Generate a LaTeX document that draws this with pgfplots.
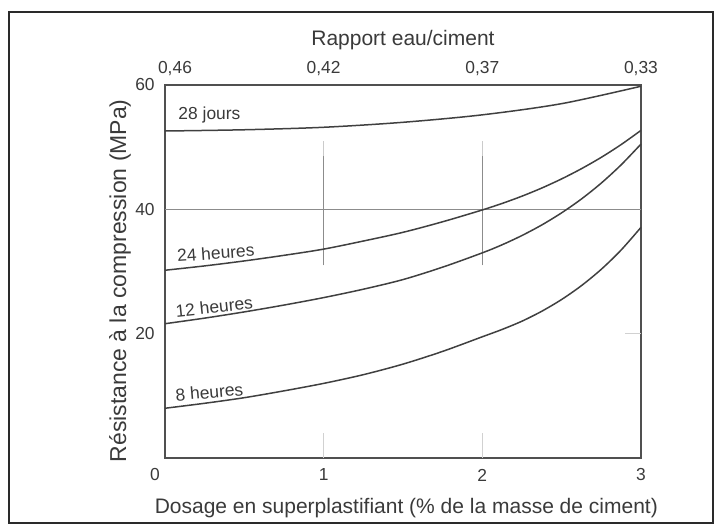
\documentclass[border=0pt]{standalone}
\usepackage{fontspec}
\setmainfont{Liberation Sans}
\usepackage{pgfplots}
\pgfplotsset{compat=1.18}
\definecolor{txt}{HTML}{3A3A3A}
\definecolor{curvec}{HTML}{404040}
\definecolor{axc}{HTML}{505050}
\definecolor{gridc}{HTML}{8C8C8C}
\definecolor{framec}{HTML}{2A2A2A}
\begin{document}
\begin{tikzpicture}[x=1pt,y=1pt]
\path[use as bounding box] (0,0) rectangle (359.5,264);
\draw[line width=1pt, framec] (4.5,2.5) rectangle (356.5,258);
\begin{axis}[
  at={(82.5pt,35pt)}, anchor=south west,
  scale only axis, width=238pt, height=186.5pt,
  xmin=0, xmax=3, ymin=0, ymax=60,
  xtick={0,1,2,3}, xticklabels={{\llap{0\kern2.6pt}},1,2,3},
  ytick={20,40,60},
  major tick length=0pt,
  axis line style={draw=axc, line width=0.7pt},
  tick label style={font=\fontsize{8.7}{10}\selectfont, text=txt},
  xticklabel style={anchor=center, yshift=-8.5pt},
  yticklabel style={anchor=center, xshift=-10pt},
  /pgf/number format/assume math mode=true,
  label style={font=\fontsize{10.5}{12}\selectfont, text=txt},
  xlabel={Dosage en superplastifiant (\% de la masse de ciment)},
  xlabel style={at={(axis description cs:0.507,-0.134)}, anchor=center},
  ylabel={Résistance à la compression (MPa)},
  ylabel style={at={(axis description cs:-0.0945,0.475)}, anchor=center, font=\fontsize{11.5}{13}\selectfont},
  clip=false,
]
% guide lines
\addplot[gridc, line width=0.6pt] coordinates {(0,40) (3,40)};
\addplot[gridc, line width=0.6pt] coordinates {(1,31) (1,48.5)};
\addplot[gridc!45, line width=0.6pt] coordinates {(1,48.5) (1,51)};
\addplot[gridc, line width=0.6pt] coordinates {(2,31) (2,48.5)};
\addplot[gridc!45, line width=0.6pt] coordinates {(2,48.5) (2,51)};
\addplot[gridc!40, line width=0.5pt] coordinates {(1,0) (1,4)};
\addplot[gridc!40, line width=0.5pt] coordinates {(2,0) (2,4)};
\addplot[gridc!40, line width=0.5pt] coordinates {(2.9,20) (3,20)};
% curves
\addplot[curvec, line width=0.75pt, smooth] coordinates {
 (0,52.6) (0.5,52.8) (1,53.2) (1.5,54.0) (2,55.2) (2.5,57.0) (3,59.8)};
\addplot[curvec, line width=0.75pt, smooth] coordinates {
 (0,30.2) (0.25,30.9) (0.5,31.7) (0.75,32.6) (1,33.6) (1.25,34.9) (1.5,36.3)
 (1.75,38.0) (2,39.9) (2.125,40.95) (2.25,42.12) (2.375,43.43) (2.5,44.9)
 (2.625,46.54) (2.75,48.37) (2.875,50.42) (3,52.7)};
\addplot[curvec, line width=0.75pt, smooth] coordinates {
 (0,21.6) (0.25,22.5) (0.5,23.5) (0.75,24.6) (1,25.8) (1.25,27.15) (1.5,28.7)
 (1.75,30.7) (2,33.0) (2.125,34.3) (2.25,35.79) (2.375,37.49) (2.5,39.44)
 (2.625,41.67) (2.75,44.23) (2.875,47.16) (3,50.5)};
\addplot[curvec, line width=0.75pt, smooth] coordinates {
 (0,8.0) (0.25,8.8) (0.5,9.7) (0.75,10.8) (1,12.0) (1.25,13.4) (1.5,15.1)
 (1.75,17.15) (2,19.5) (2.125,20.68) (2.25,22.01) (2.375,23.61) (2.5,25.5)
 (2.625,27.73) (2.75,30.36) (2.875,33.46) (3,37.1)};
% curve labels
\node[font=\fontsize{8.7}{10}\selectfont, text=txt] at (axis cs:0.28,55.2) {28 jours};
\node[font=\fontsize{8.7}{10}\selectfont, text=txt, rotate=4] at (axis cs:0.32,33.0) {24 heures};
\node[font=\fontsize{8.7}{10}\selectfont, text=txt, rotate=6] at (axis cs:0.31,24.3) {12 heures};
\node[font=\fontsize{8.7}{10}\selectfont, text=txt, rotate=5] at (axis cs:0.28,10.6) {8 heures};
\end{axis}
\begin{axis}[
  at={(82.5pt,35pt)}, anchor=south west,
  scale only axis, width=238pt, height=186.5pt,
  xmin=0, xmax=3, ymin=0, ymax=60,
  axis x line*=top, axis y line=none,
  axis line style={draw=none},
  xtick={0,1,2,3},
  xticklabels={{\kern10pt 0,46},{0,42},{0,37},{0,33}},
  major tick length=0pt,
  tick label style={font=\fontsize{8.7}{10}\selectfont, text=txt},
  xticklabel style={anchor=center, yshift=8pt},
  clip=false,
]
\node[font=\fontsize{10.5}{12}\selectfont, text=txt] at (axis description cs:0.5,1.1206) {Rapport eau/ciment};
\end{axis}
\end{tikzpicture}
\end{document}
